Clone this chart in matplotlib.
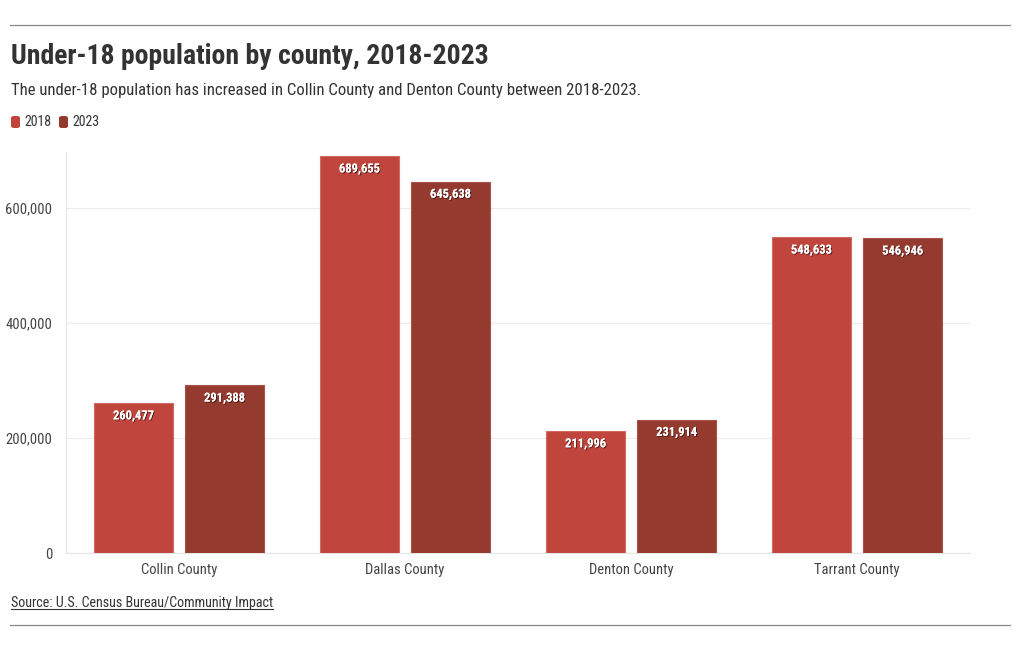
import numpy as np
import matplotlib
matplotlib.use("Agg")
import matplotlib.pyplot as plt
import matplotlib.patheffects as pe
from matplotlib.lines import Line2D
from matplotlib.patches import FancyBboxPatch

plt.rcParams['font.family'] = ['Roboto Condensed', 'Liberation Sans Narrow', 'Roboto', 'DejaVu Sans']

# Data
counties = ["Collin County", "Dallas County", "Denton County", "Tarrant County"]
pop_2018 = [260477, 689655, 211996, 548633]
pop_2023 = [291388, 645638, 231914, 546946]
series = ["2018", "2023"]
colors = ["#c0453c", "#943a2f"]
edges = ["#d06a62", "#a85248"]

fig = plt.figure(figsize=(10.2, 6.5), dpi=100)
ax = fig.add_axes([0.0647, 0.1492, 0.8863, 0.6170])

x = np.arange(len(counties))
w = 0.35
off = 0.2015
for vals, dx, c, ec in zip([pop_2018, pop_2023], [-off, off], colors, edges):
    bars = ax.bar(x + dx, vals, width=w, color=c, edgecolor=ec, linewidth=0.8, zorder=3)
    for b, v in zip(bars, vals):
        t = ax.annotate(f"{v:,}", (b.get_x() + b.get_width() / 2, v), xytext=(0, -4.5),
                        textcoords="offset points", ha="center", va="top",
                        color="white", fontsize=9, fontweight="bold", zorder=4)
        t.set_path_effects([pe.withSimplePatchShadow(offset=(0.7, -0.7), shadow_rgbFace="#3a1010", alpha=0.8),
                            pe.Normal()])

ax.set_xlim(-0.5, 3.5)
ax.set_ylim(0, 697000)
ax.set_yticks([0, 200000, 400000, 600000])
ax.set_yticklabels(["0", "200,000", "400,000", "600,000"])
ax.set_xticks(x)
ax.set_xticklabels(counties)
ax.tick_params(axis="both", length=0, labelsize=10.5, colors="#444444")
ax.tick_params(axis="y", pad=10)
ax.tick_params(axis="x", pad=7)
ax.grid(axis="y", color="#ececec", linewidth=0.8, zorder=0)
for s in ["top", "right"]:
    ax.spines[s].set_visible(False)
ax.spines["left"].set_color("#e6e6e6")
ax.spines["bottom"].set_color("#e6e6e6")
ax.spines["left"].set_linewidth(0.8)
ax.spines["bottom"].set_linewidth(0.8)

# Header and footer
fig.add_artist(Line2D([10 / 1020, 1010 / 1020], [1 - 25 / 650] * 2, color="#888888", linewidth=0.9))
fig.add_artist(Line2D([10 / 1020, 1010 / 1020], [1 - 625 / 650] * 2, color="#888888", linewidth=0.9))
fig.text(11 / 1020, 1 - 56 / 650, "Under-18 population by county, 2018-2023", fontsize=20,
         fontweight="bold", color="#333333", va="center")
fig.text(11 / 1020, 1 - 90 / 650, "The under-18 population has increased in Collin County and Denton County between 2018-2023.",
         fontsize=12.1, color="#333333", va="center")

lx = 11
for name, c in zip(series, colors):
    fig.add_artist(FancyBboxPatch((lx / 1020, 1 - 128 / 650), 9 / 1020, 12 / 650,
                                  boxstyle="round,pad=0,rounding_size=0.003", transform=fig.transFigure,
                                  facecolor=c, edgecolor="none"))
    fig.text((lx + 13) / 1020, 1 - 122 / 650, name, fontsize=10, color="#333333", va="center")
    lx += 48

src = fig.text(11 / 1020, 1 - 603 / 650, "Source: U.S. Census Bureau/Community Impact", fontsize=10.1,
               color="#333333", va="center")
fig.canvas.draw()
bb = src.get_window_extent()
fig.add_artist(Line2D([bb.x0 / 1020, bb.x1 / 1020], [(bb.y0 + 1) / 650] * 2, color="#333333", linewidth=0.8))

fig.savefig("out.png", dpi=100)
